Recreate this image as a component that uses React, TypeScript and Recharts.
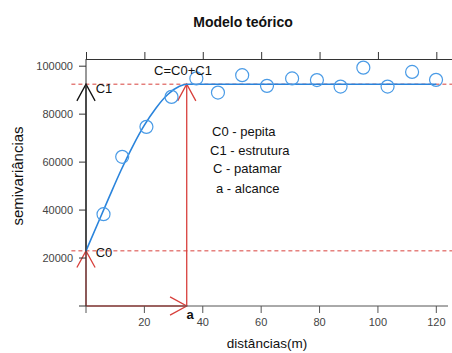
import { ComposedChart, Line, ReferenceLine, Scatter, XAxis, YAxis } from 'recharts';

const sampleDist = [6, 12.4, 20.7, 29.3, 37.8, 45.2, 53.5, 62, 70.6, 79.1, 87.2, 95, 103.3, 111.7, 119.9];
const sampleGamma = [38300, 62200, 74700, 87200, 94900, 89000, 96250, 91800, 94900, 94200, 91500, 99400, 91500, 97600, 94300];

// Fitted (spherical) model curve.
const modelDist = [0, 4, 8, 12, 16, 20, 24, 28, 32, 34.5, 120];
const modelGamma = [23000, 34300, 45600, 56600, 66600, 75400, 82600, 88200, 91600, 92500, 92500];

const nugget = 23000; // C0
const sill = 92500; // C = C0 + C1
const range = 34.5; // a

const xTicks = [0, 20, 40, 60, 80, 100, 120];
const yTicks = [0, 20000, 40000, 60000, 80000, 100000];
const xMax = 124;
const yMax = 103000;

const legendLines = ['C0 - pepita', 'C1 - estrutura', 'C - patamar', 'a - alcance'];

const samples = sampleDist.map((d, i) => ({ dist: d, gamma: sampleGamma[i] }));
const model = modelDist.map((d, i) => ({ dist: d, gamma: modelGamma[i] }));

const W = 452;
const H = 353;
const M = { top: 59, right: 4, bottom: 17, left: 0 };
const Y_AXIS_W = 86;
const plotLeft = M.left + Y_AXIS_W;
const plotRight = W - M.right;

const RED = '#d8403c';
const BLUE = '#2a84dc';
const FONT = '"Liberation Sans", Arial, sans-serif';

// Line with an open "V" arrow head at its end point.
function arrow(color: string) {
  return (props: any) => {
    const { x1, y1, x2, y2 } = props;
    const ang = Math.atan2(y2 - y1, x2 - x1);
    const len = 19;
    const spread = 0.5;
    const ax = x2 - len * Math.cos(ang - spread);
    const ay = y2 - len * Math.sin(ang - spread);
    const bx = x2 - len * Math.cos(ang + spread);
    const by = y2 - len * Math.sin(ang + spread);
    return (
      <g stroke={color} strokeWidth={1.3} fill="none">
        <line x1={x1} y1={y1} x2={x2} y2={y2} />
        <polyline points={`${ax},${ay} ${x2},${y2} ${bx},${by}`} />
      </g>
    );
  };
}

const Ring = (props: any) => (
  <circle cx={props.cx} cy={props.cy} r={6.5} fill="none" stroke="#4a9be6" strokeWidth={1.2} />
);

function Txt({ x, y, size = 13, bold = false, children, left = false }: any) {
  return (
    <div
      style={{
        position: 'absolute',
        left: x,
        top: y,
        transform: left ? 'translate(0,-50%)' : 'translate(-50%,-50%)',
        fontSize: size,
        fontWeight: bold ? 'bold' : 'normal',
        lineHeight: 1,
        whiteSpace: 'nowrap',
        color: '#111',
        fontFamily: FONT,
      }}
    >
      {children}
    </div>
  );
}

// Top border of the lattice panel with its unlabeled tick marks.
function TopFrame() {
  const sx = (v: number) => plotLeft + (v / xMax) * (plotRight - plotLeft);
  return (
    <>
      <div
        style={{
          position: 'absolute',
          left: plotLeft,
          top: M.top,
          width: W - plotLeft,
          height: 1,
          background: '#333',
        }}
      />
      <svg width={W} height={H} style={{ position: 'absolute', left: 0, top: 0, pointerEvents: 'none' }}>
        <rect x={plotLeft} y={M.top} width={W - plotLeft} height={1} fill="#333" />
        {xTicks.map((t) => (
          <line key={t} x1={sx(t) + 0.5} x2={sx(t) + 0.5} y1={M.top - 7} y2={M.top} stroke="#333" />
        ))}
      </svg>
    </>
  );
}

const hideZero = (v: number) => (v === 0 ? '' : String(v));

export default function App() {
  const tickStyle = { fill: '#444', fontSize: 11, fontFamily: FONT };
  return (
    <div style={{ position: 'absolute', left: 0, top: 0, width: W, height: H, background: '#fff' }}>
      <ComposedChart width={W} height={H} margin={M}>
        <XAxis
          type="number"
          dataKey="dist"
          domain={[0, xMax]}
          ticks={xTicks}
          tickFormatter={hideZero}
          tick={tickStyle}
          tickSize={7}
          tickMargin={5}
          height={30}
          stroke="#555"
        />
        <YAxis
          type="number"
          domain={[0, yMax]}
          ticks={yTicks}
          tickFormatter={hideZero}
          tick={tickStyle}
          tickSize={7}
          tickMargin={6}
          width={Y_AXIS_W}
          stroke="#333"
        />
        <ReferenceLine
          segment={[{ x: -5, y: sill }, { x: 127, y: sill }]}
          ifOverflow="visible"
          stroke={RED}
          strokeDasharray="4 3"
        />
        <ReferenceLine
          segment={[{ x: -5, y: nugget }, { x: 127, y: nugget }]}
          ifOverflow="visible"
          stroke={RED}
          strokeDasharray="4 3"
        />
        <ReferenceLine segment={[{ x: 0, y: 0 }, { x: 0, y: nugget }]} ifOverflow="visible" shape={arrow(RED)} />
        <ReferenceLine segment={[{ x: 0, y: nugget }, { x: 0, y: sill }]} ifOverflow="visible" shape={arrow('#111')} />
        <ReferenceLine segment={[{ x: range, y: 0 }, { x: range, y: sill }]} ifOverflow="visible" shape={arrow(RED)} />
        <ReferenceLine segment={[{ x: 0, y: 0 }, { x: range, y: 0 }]} ifOverflow="visible" shape={arrow(RED)} />
        <Line
          data={model}
          dataKey="gamma"
          type="monotone"
          stroke={BLUE}
          strokeWidth={1.6}
          dot={false}
          isAnimationActive={false}
        />
        <Scatter data={samples} dataKey="gamma" shape={Ring} isAnimationActive={false} />
      </ComposedChart>

      <TopFrame />

      <Txt x={243} y={22} size={14} bold>
        Modelo teórico
      </Txt>
      <div
        style={{
          position: 'absolute',
          left: 17,
          top: 176,
          transform: 'translate(-50%,-50%) rotate(-90deg)',
          fontSize: 15,
          lineHeight: 1,
          whiteSpace: 'nowrap',
          color: '#111',
          fontFamily: FONT,
        }}
      >
        semivariâncias
      </div>
      <Txt x={267} y={344} size={13.5}>
        distâncias(m)
      </Txt>
      <Txt x={104} y={88}>C1</Txt>
      <Txt x={104} y={252}>C0</Txt>
      <Txt x={190} y={314} bold>
        a
      </Txt>
      <Txt x={183} y={70}>C=C0+C1</Txt>
      {legendLines.map((t, i) => (
        <Txt key={t} x={[212, 210, 213, 216][i]} y={[131, 150, 168, 188][i]} left>
          {t}
        </Txt>
      ))}
    </div>
  );
}
